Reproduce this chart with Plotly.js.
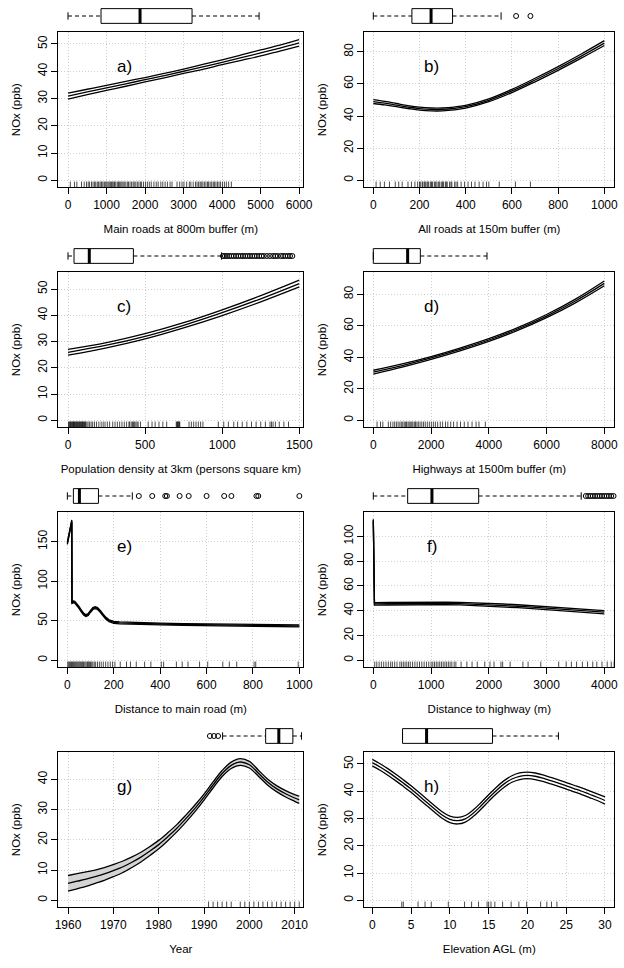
<!DOCTYPE html>
<html>
<head>
<meta charset="utf-8">
<script src="https://cdn.plot.ly/plotly-3.0.1.min.js"></script>
<style>html,body{margin:0;padding:0;background:#fff;}#chart{width:624px;height:968px;}</style>
</head>
<body>
<div id="chart"></div>
<script>
// ---------------- DATA ----------------
const panelLabels = ['a)', 'b)', 'c)', 'd)', 'e)', 'f)', 'g)', 'h)'];
const xTitles = [
  'Main roads at 800m buffer (m)',
  'All roads at 150m buffer (m)',
  'Population density at 3km (persons square km)',
  'Highways at 1500m buffer (m)',
  'Distance to main road (m)',
  'Distance to highway (m)',
  'Year',
  'Elevation AGL (m)'
];
const yTitle = 'NOx (ppb)';

// a) Main roads at 800m buffer
const aX = [0, 500, 1000, 1500, 2000, 2500, 3000, 3500, 4000, 4500, 5000, 5500, 6000];
const aFit = [30.9, 32.4, 33.9, 35.4, 36.9, 38.4, 40.0, 41.6, 43.3, 45.0, 46.7, 48.5, 50.4];
const aUpper = [32.0, 33.4, 34.8, 36.3, 37.7, 39.2, 40.8, 42.5, 44.2, 46.0, 47.8, 49.6, 51.6];
const aLower = [29.8, 31.4, 33.0, 34.5, 36.1, 37.6, 39.2, 40.7, 42.4, 44.0, 45.6, 47.4, 49.2];
const aRug = [60, 170, 230, 350, 420, 480, 525, 560, 610, 650, 690, 720, 760, 790, 830, 860, 880, 910, 950, 980, 1010, 1040, 1070, 1100, 1130, 1160, 1190, 1210, 1240, 1280, 1310, 1340, 1370, 1400, 1430, 1460, 1500, 1540, 1570, 1610, 1650, 1690, 1720, 1760, 1800, 1840, 1880, 1910, 1960, 2010, 2060, 2110, 2160, 2230, 2290, 2340, 2410, 2460, 2520, 2580, 2650, 2700, 2830, 2900, 2960, 3010, 3080, 3150, 3190, 3250, 3310, 3350, 3390, 3430, 3460, 3500, 3540, 3580, 3620, 3650, 3690, 3730, 3770, 3800, 3840, 3880, 3920, 3960, 4010, 4060, 4110, 4170, 4240];
const aBox = [0, 857, 1870, 3220, 4960];   // lower whisker, Q1, median, Q3, upper whisker
const aOut = [];

// b) All roads at 150m buffer
const bX = [0, 50, 100, 150, 200, 250, 300, 350, 400, 500, 600, 700, 800, 900, 1000];
const bFit = [49.0, 48.0, 46.8, 45.6, 44.6, 44.1, 44.1, 44.7, 45.8, 49.8, 55.6, 62.4, 69.6, 77.3, 85.4];
const bUpper = [50.2, 49.1, 47.8, 46.5, 45.5, 45.0, 45.0, 45.6, 46.7, 50.7, 56.6, 63.5, 70.8, 78.6, 86.9];
const bLower = [47.8, 46.9, 45.8, 44.7, 43.7, 43.2, 43.2, 43.8, 44.9, 48.9, 54.6, 61.3, 68.4, 76.0, 83.9];
const bRug = [12, 30, 48, 70, 95, 110, 125, 150, 165, 180, 192, 200, 205, 212, 215, 222, 225, 232, 236, 240, 248, 252, 256, 264, 268, 272, 280, 284, 288, 296, 300, 304, 312, 316, 320, 330, 336, 340, 352, 358, 365, 380, 395, 410, 425, 440, 458, 475, 490, 500, 545, 615, 680];
const bBox = [0, 167, 250, 343, 553];
const bOut = [618, 680];

// c) Population density at 3km
const cX = [0, 250, 500, 750, 1000, 1250, 1500];
const cFit = [25.9, 28.6, 32.0, 36.2, 41.0, 46.3, 52.1];
const cUpper = [27.0, 29.6, 33.0, 37.2, 42.1, 47.5, 53.4];
const cLower = [24.8, 27.6, 31.0, 35.2, 39.9, 45.1, 50.8];
const cRug = [3, 8, 12, 16, 20, 24, 28, 32, 35, 38, 42, 46, 50, 54, 58, 62, 66, 70, 74, 78, 82, 86, 90, 94, 98, 102, 106, 110, 114, 122, 130, 140, 150, 160, 172, 185, 200, 215, 228, 240, 255, 270, 290, 305, 320, 335, 350, 365, 380, 395, 400, 410, 418, 425, 432, 440, 448, 455, 470, 520, 545, 565, 590, 615, 640, 702, 706, 710, 714, 718, 722, 725, 785, 800, 815, 830, 845, 860, 875, 975, 1010, 1040, 1075, 1100, 1130, 1160, 1190, 1220, 1250, 1280, 1310, 1320, 1330, 1345, 1370, 1400, 1430];
const cBox = [0, 39, 138, 424, 996];
const cOut = [1005, 1018, 1030, 1045, 1060, 1075, 1090, 1105, 1120, 1135, 1150, 1165, 1180, 1195, 1210, 1225, 1240, 1255, 1270, 1290, 1310, 1330, 1345, 1360, 1380, 1395, 1410, 1425, 1440, 1455];

// d) Highways at 1500m buffer
const dX = [0, 1000, 2000, 3000, 4000, 5000, 6000, 7000, 8000];
const dFit = [30.6, 34.8, 39.6, 45.0, 51.0, 58.0, 66.2, 75.8, 87.0];
const dUpper = [31.8, 35.8, 40.5, 45.9, 51.9, 58.9, 67.2, 77.0, 88.5];
const dLower = [29.4, 33.8, 38.7, 44.1, 50.1, 57.1, 65.2, 74.6, 85.5];
const dRug = [130, 250, 330, 520, 600, 680, 740, 800, 860, 920, 970, 1020, 1070, 1110, 1150, 1200, 1240, 1280, 1330, 1370, 1420, 1460, 1510, 1560, 1620, 1680, 1740, 1800, 1870, 1940, 2010, 2080, 2150, 2230, 2320, 2400, 2500, 2580, 2680, 2780, 2900, 3020, 3150, 3280, 3420, 3560, 3660, 3880];
const dBox = [0, 0, 1189, 1628, 3937];
const dOut = [];

// e) Distance to main road
const eX = [0, 5, 10, 15, 19, 20, 23, 27, 32, 40, 50, 60, 70, 80, 90, 100, 110, 120, 130, 140, 150, 165, 180, 200, 225, 250, 300, 400, 500, 600, 700, 800, 900, 1000];
const eFit = [148, 155, 162, 169, 176, 73, 73.5, 74, 73.5, 71, 67, 62.5, 58.5, 56.5, 58, 62, 65.5, 66.5, 65.5, 62.5, 58.5, 53.5, 50, 48, 47.4, 47.1, 46.6, 45.9, 45.3, 44.8, 44.4, 44.1, 43.8, 43.6];
const eUpper = [149.5, 156.5, 163.5, 170.5, 177.5, 74.2, 74.7, 75.2, 74.7, 72.2, 68.2, 63.7, 59.7, 57.7, 59.2, 63.2, 66.7, 67.7, 66.7, 63.7, 59.7, 54.7, 51.2, 49.2, 48.6, 48.3, 47.8, 47.1, 46.5, 46.0, 45.6, 45.3, 45.0, 44.8];
const eLower = [146.5, 153.5, 160.5, 167.5, 174.5, 71.8, 72.3, 72.8, 72.3, 69.8, 65.8, 61.3, 57.3, 55.3, 56.8, 60.8, 64.3, 65.3, 64.3, 61.3, 57.3, 52.3, 48.8, 46.8, 46.2, 45.9, 45.4, 44.7, 44.1, 43.6, 43.2, 42.9, 42.6, 42.4];
const eRug = [2, 6, 10, 14, 18, 22, 26, 30, 34, 38, 42, 46, 50, 54, 58, 62, 66, 70, 75, 80, 85, 88, 92, 96, 100, 105, 110, 116, 122, 130, 138, 146, 155, 165, 175, 185, 195, 205, 228, 255, 272, 297, 333, 360, 405, 415, 470, 495, 520, 570, 605, 670, 698, 730, 805, 812, 995];
const eBox = [0, 26, 52, 134, 280];
const eOut = [308, 366, 422, 429, 484, 523, 600, 676, 707, 815, 823, 1000];

// f) Distance to highway
const fX = [0, 10, 20, 250, 500, 750, 1000, 1250, 1500, 1750, 2000, 2250, 2500, 2750, 3000, 3250, 3500, 3750, 4000];
const fFit = [113, 45.6, 45.5, 45.6, 45.8, 46.0, 46.0, 45.9, 45.7, 45.3, 44.9, 44.3, 43.6, 42.8, 42.0, 41.2, 40.4, 39.6, 38.8];
const fUpper = [113.8, 46.6, 46.5, 46.6, 46.8, 47.0, 47.0, 46.9, 46.7, 46.4, 46.0, 45.4, 44.8, 44.0, 43.2, 42.5, 41.7, 40.9, 40.1];
const fLower = [112.2, 44.6, 44.5, 44.6, 44.8, 45.0, 45.0, 44.9, 44.7, 44.2, 43.8, 43.2, 42.4, 41.6, 40.8, 39.9, 39.1, 38.3, 37.5];
const fRug = [25, 60, 100, 140, 180, 220, 260, 300, 330, 370, 410, 460, 490, 520, 550, 580, 610, 640, 680, 720, 760, 800, 840, 880, 920, 960, 1000, 1030, 1060, 1090, 1120, 1150, 1180, 1210, 1240, 1270, 1300, 1330, 1360, 1400, 1430, 1520, 1620, 1710, 1800, 1930, 2020, 2090, 2210, 2240, 2370, 2590, 2680, 2900, 3210, 3340, 3430, 3520, 3620, 3710, 3800, 3870, 3960, 4050, 4120, 4170];
const fBox = [0, 595, 1015, 1825, 3600];
const fOut = [3680, 3720, 3760, 3800, 3840, 3880, 3920, 3960, 4000, 4040, 4080, 4120, 4160, 4190];

// g) Year
const gX = [1960, 1962, 1964, 1966, 1968, 1970, 1972, 1974, 1976, 1978, 1980, 1982, 1984, 1986, 1988, 1990, 1992, 1994, 1996, 1998, 2000, 2002, 2004, 2006, 2008, 2010, 2011];
const gFit = [5.6, 6.3, 7.0, 7.8, 8.7, 9.8, 11.0, 12.5, 14.2, 16.2, 18.4, 21.0, 23.8, 27.0, 30.4, 34.1, 38.1, 41.9, 44.6, 45.7, 44.8, 42.0, 39.1, 36.9, 35.2, 33.8, 33.2];
const gUpper = [8.2, 8.8, 9.4, 10.0, 10.8, 11.8, 12.9, 14.25, 15.8, 17.7, 19.8, 22.3, 25.0, 28.15, 31.5, 35.1, 39.1, 42.9, 45.65, 46.8, 45.9, 43.0, 40.1, 37.9, 36.25, 34.9, 34.4];
const gLower = [3.0, 3.8, 4.6, 5.6, 6.6, 7.8, 9.1, 10.75, 12.6, 14.7, 17.0, 19.7, 22.6, 25.85, 29.3, 33.1, 37.1, 40.9, 43.55, 44.6, 43.7, 41.0, 38.1, 35.9, 34.15, 32.7, 32.0];
const gRug = [1991, 1992, 1993, 1994, 1995, 1996, 1998, 1999, 2000, 2001, 2002, 2003, 2004, 2005, 2006, 2007, 2008, 2009, 2010, 2011];
const gBox = [1994.1, 2003.6, 2006.5, 2009.6, 2011.5];
const gOut = [1991.3, 1992.2, 1993.1];

// h) Elevation AGL
const hX = [0, 1, 2, 3, 4, 5, 6, 7, 8, 9, 10, 11, 12, 13, 14, 15, 16, 17, 18, 19, 20, 21, 22, 23, 24, 25, 26, 27, 28, 29, 30];
const hFit = [50.5, 48.9, 47.1, 45.1, 43.0, 40.8, 38.4, 36.0, 33.6, 31.3, 29.7, 29.2, 29.9, 31.9, 34.6, 37.5, 40.3, 42.7, 44.5, 45.5, 45.8, 45.5, 44.8, 43.9, 43.0, 42.0, 41.0, 40.0, 38.9, 37.8, 36.6];
const hUpper = [51.7, 50.1, 48.3, 46.3, 44.2, 42.0, 39.6, 37.2, 34.8, 32.5, 30.9, 30.4, 31.1, 33.1, 35.8, 38.7, 41.5, 43.9, 45.7, 46.7, 47.0, 46.7, 46.0, 45.1, 44.2, 43.2, 42.2, 41.2, 40.1, 39.0, 37.9];
const hLower = [49.3, 47.7, 45.9, 43.9, 41.8, 39.6, 37.2, 34.8, 32.4, 30.1, 28.5, 28.0, 28.7, 30.7, 33.4, 36.3, 39.1, 41.5, 43.3, 44.3, 44.6, 44.3, 43.6, 42.7, 41.8, 40.8, 39.8, 38.8, 37.7, 36.6, 35.3];
const hRug = [3.8, 4.0, 5.9, 6.8, 7.6, 9.8, 11.9, 12.8, 13.7, 14.8, 15.0, 15.3, 15.8, 16.8, 17.9, 18.9, 19.9, 21.7, 22.5, 23.1, 23.8];
const hBox = [3.9, 3.9, 7.0, 15.5, 24.0];
const hOut = [];

// ---------------- LAYOUT / STYLE ----------------
const W = 624, H = 968;
const FONT = 'Liberation Sans, Arial, sans-serif';
const colPx = [[58.3, 303.3], [364.3, 614.3]];
const rowTopPx = [32, 272, 512, 752];
const plotHPx = 155.3;
const boxPx = [7, 25];

const panels = [
  {x: aX, fit: aFit, up: aUpper, lo: aLower, rug: aRug, box: aBox, out: aOut, xr: [-252, 6108], yr: [-2.57, 54.4], xd: 1000, x0: 0, yd: 10, shade: false, shape: 'spline'},
  {x: bX, fit: bFit, up: bUpper, lo: bLower, rug: bRug, box: bBox, out: bOut, xr: [-39, 1043], yr: [-4.35, 92.3], xd: 200, x0: 0, yd: 20, shade: false, shape: 'spline'},
  {x: cX, fit: cFit, up: cUpper, lo: cLower, rug: cRug, box: cBox, out: cOut, xr: [-63, 1526], yr: [-2.67, 56.5], xd: 500, x0: 0, yd: 10, shade: false, shape: 'spline'},
  {x: dX, fit: dFit, up: dUpper, lo: dLower, rug: dRug, box: dBox, out: dOut, xr: [-312, 8346], yr: [-4.44, 94.2], xd: 2000, x0: 0, yd: 20, shade: false, shape: 'spline'},
  {x: eX, fit: eFit, up: eUpper, lo: eLower, rug: eRug, box: eBox, out: eOut, xr: [-39, 1017], yr: [-8.85, 187.6], xd: 200, x0: 0, yd: 50, shade: false, shape: 'linear'},
  {x: fX, fit: fFit, up: fUpper, lo: fLower, rug: fRug, box: fBox, out: fOut, xr: [-156, 4173], yr: [-5.66, 119.6], xd: 1000, x0: 0, yd: 20, shade: false, shape: 'linear'},
  {x: gX, fit: gFit, up: gUpper, lo: gLower, rug: gRug, box: gBox, out: gOut, xr: [1957.86, 2011.9], yr: [-2.31, 49.0], xd: 10, x0: 1960, yd: 10, shade: true, shape: 'spline'},
  {x: hX, fit: hFit, up: hUpper, lo: hLower, rug: hRug, box: hBox, out: hOut, xr: [-1.03, 31.2], yr: [-2.57, 54.4], xd: 5, x0: 0, yd: 10, shade: false, shape: 'spline'}
];

const traces = [];
const layout = {
  width: W, height: H,
  margin: {l: 0, r: 0, t: 0, b: 0},
  paper_bgcolor: '#ffffff', plot_bgcolor: '#ffffff',
  showlegend: false,
  font: {family: FONT, color: '#000000', size: 12},
  annotations: []
};

function axName(n) { return n === 1 ? '' : String(n); }

panels.forEach((p, i) => {
  const n = i + 1, bn = i + 9;
  const col = colPx[i % 2];
  const top = rowTopPx[Math.floor(i / 2)];
  const xa = 'x' + axName(n), ya = 'y' + axName(n);
  const xb = 'x' + bn, yb = 'y' + bn;
  const lineStyle = {color: '#000000', width: 1.3, shape: p.shape};

  // confidence band + fit
  traces.push({type: 'scatter', mode: 'lines', x: p.x, y: p.lo, xaxis: xa, yaxis: ya,
    line: lineStyle, hoverinfo: 'skip'});
  traces.push({type: 'scatter', mode: 'lines', x: p.x, y: p.up, xaxis: xa, yaxis: ya,
    line: lineStyle, fill: p.shade ? 'tonexty' : 'none', fillcolor: '#d4d4d4', hoverinfo: 'skip'});
  traces.push({type: 'scatter', mode: 'lines', x: p.x, y: p.fit, xaxis: xa, yaxis: ya,
    line: lineStyle, hoverinfo: 'skip'});

  // rug
  const ry0 = p.yr[0], ry1 = p.yr[0] + (p.yr[1] - p.yr[0]) * 0.037;
  const rx = [], ry = [];
  p.rug.forEach(v => { rx.push(v, v, null); ry.push(ry0, ry1, null); });
  traces.push({type: 'scatter', mode: 'lines', x: rx, y: ry, xaxis: xa, yaxis: ya,
    line: {color: 'rgba(0,0,0,0.7)', width: 1}, hoverinfo: 'skip'});

  // boxplot above
  const [wl, q1, md, q3, wh] = p.box;
  traces.push({type: 'scatter', mode: 'lines', x: [q1, q3, q3, q1, q1], y: [0, 0, 1, 1, 0],
    xaxis: xb, yaxis: yb, line: {color: '#000', width: 1}, hoverinfo: 'skip'});
  traces.push({type: 'scatter', mode: 'lines', x: [md, md], y: [0, 1],
    xaxis: xb, yaxis: yb, line: {color: '#000', width: 3}, hoverinfo: 'skip'});
  traces.push({type: 'scatter', mode: 'lines', x: [wl, q1, null, q3, wh], y: [0.5, 0.5, null, 0.5, 0.5],
    xaxis: xb, yaxis: yb, line: {color: '#000', width: 1, dash: '4px,3px'}, hoverinfo: 'skip'});
  traces.push({type: 'scatter', mode: 'lines', x: [wl, wl, null, wh, wh], y: [0.25, 0.75, null, 0.25, 0.75],
    xaxis: xb, yaxis: yb, line: {color: '#000', width: 1}, hoverinfo: 'skip'});
  if (p.out.length) {
    traces.push({type: 'scatter', mode: 'markers', x: p.out, y: p.out.map(() => 0.5),
      xaxis: xb, yaxis: yb, cliponaxis: false,
      marker: {symbol: 'circle-open', size: 5, color: '#000', line: {width: 1, color: '#000'}}, hoverinfo: 'skip'});
  }

  const xdom = [col[0] / W, col[1] / W];
  const ydom = [1 - (top + plotHPx) / H, 1 - top / H];
  const common = {
    ticks: 'outside', ticklen: 6, tickwidth: 1, tickcolor: '#000',
    showline: true, mirror: true, linecolor: '#000', linewidth: 1,
    showgrid: true, gridcolor: '#d0d0d0', griddash: '1px,2px', gridwidth: 1,
    zeroline: false, automargin: false, fixedrange: true,
    tickfont: {family: FONT, size: 12, color: '#000'}
  };
  layout['xaxis' + axName(n)] = Object.assign({}, common, {
    domain: xdom, anchor: ya, range: p.xr, tickmode: 'linear', tick0: p.x0, dtick: p.xd,
    title: {text: xTitles[i], font: {family: FONT, size: 11.5}, standoff: 14}
  });
  layout['yaxis' + axName(n)] = Object.assign({}, common, {
    domain: ydom, anchor: xa, range: p.yr, tickmode: 'linear', tick0: 0, dtick: p.yd, tickangle: -90,
    title: {text: yTitle, font: {family: FONT, size: 11.5}, standoff: 12}
  });
  const bTop = top + boxPx[0] - 32, bBot = top + boxPx[1] - 32;
  layout['xaxis' + bn] = {domain: xdom, anchor: yb, range: p.xr, visible: false, fixedrange: true, showgrid: false, zeroline: false};
  layout['yaxis' + bn] = {domain: [1 - bBot / H, 1 - bTop / H], anchor: xb, range: [-0.111, 1.111],
    visible: false, fixedrange: true, showgrid: false, zeroline: false};

  layout.annotations.push({
    text: panelLabels[i], xref: xa + ' domain', yref: ya + ' domain', x: 0.27, y: 0.78,
    showarrow: false, font: {family: FONT, size: 17, color: '#000'}, xanchor: 'center', yanchor: 'middle'
  });
});

Plotly.newPlot('chart', traces, layout, {staticPlot: true, displayModeBar: false});
</script>
</body>
</html>
